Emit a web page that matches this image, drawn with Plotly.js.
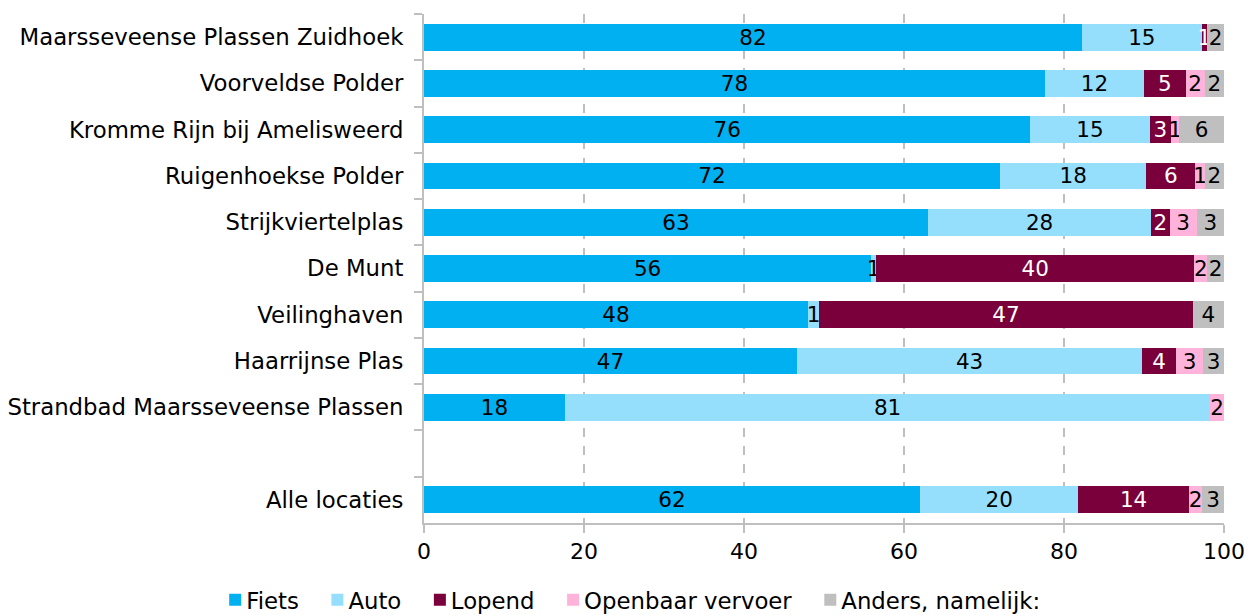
<!DOCTYPE html>
<html>
<head>
<meta charset="utf-8">
<script src="https://cdn.plot.ly/plotly-3.0.1.min.js"></script>
<style>
html,body{margin:0;padding:0;background:#fff;}
#chart{width:1257px;height:615px;}
#chart .legend .legendtext{transform:translateX(-9px);}
</style>
</head>
<body>
<div id="chart"></div>
<script>
const categories = ["Maarsseveense Plassen Zuidhoek","Voorveldse Polder","Kromme Rijn bij Amelisweerd","Ruigenhoekse Polder","Strijkviertelplas","De Munt","Veilinghaven","Haarrijnse Plas","Strandbad Maarsseveense Plassen"," ","Alle locaties"];
const fiets   = [82.25, 77.6, 75.8, 72.0, 63.0, 55.9, 48.0, 46.6, 17.6, null, 62.0];
const auto    = [14.95, 12.4, 14.9, 18.3, 27.9, 0.6, 1.4, 43.2, 80.7, null, 19.8];
const lopend  = [0.7, 5.2, 2.7, 6.1, 2.3, 39.8, 46.7, 4.2, 0, null, 13.8];
const ov      = [0, 2.4, 1.0, 1.2, 3.4, 1.6, 0, 3.4, 1.7, null, 1.7];
const anders  = [2.1, 2.4, 5.6, 2.4, 3.4, 2.1, 3.9, 2.6, 0, null, 2.7];
const seriesNames = ["Fiets","Auto","Lopend","Openbaar vervoer","Anders, namelijk:"];
const seriesData = [fiets, auto, lopend, ov, anders];
const colors = ["#00b0f0","#95dffd","#7a003c","#ffb3db","#bfbfbf"];
const textColors = ["#000","#000","#fff","#000","#000"];

const traces = seriesData.map((vals, i) => ({
  type: "bar",
  orientation: "h",
  name: seriesNames[i] + "\u2009",
  y: categories,
  x: vals,
  marker: {color: colors[i], line: {width: 0}},
  text: vals.map(v => (v && v > 0) ? String(Math.round(v)) : ""),
  textposition: "inside",
  insidetextanchor: "middle",
  textangle: 0,
  constraintext: "none",
  textfont: {family: "DejaVu Sans", size: 21.5, color: textColors[i]},
  hoverinfo: "x+name"
}));

const layout = {
  width: 1257, height: 615,
  margin: {l: 424, r: 33, t: 14, b: 92, autoexpand: false},
  barmode: "stack",
  bargap: 0.42,
  paper_bgcolor: "#fff", plot_bgcolor: "#fff",
  font: {family: "DejaVu Sans", size: 22.8, color: "#000"},
  xaxis: {
    range: [0, 100], tickvals: [0,20,40,60,80,100],
    showgrid: true, gridcolor: "#bfbfbf", griddash: "dash", gridwidth: 1.5,
    showline: true, linecolor: "#bfbfbf", linewidth: 2,
    ticks: "outside", ticklen: 8, tickcolor: "#bfbfbf", tickwidth: 2,
    ticklabelstandoff: 0,
    zeroline: false, tickfont: {size: 22}
  },
  yaxis: {
    type: "category", categoryorder: "array", categoryarray: categories,
    autorange: "reversed",
    tickson: "boundaries",
    showgrid: false,
    showline: true, linecolor: "#bfbfbf", linewidth: 2,
    ticks: "outside", ticklen: 8, tickcolor: "#bfbfbf", tickwidth: 2,
    ticklabelstandoff: 14,
    tickfont: {size: 22.8}
  },
  legend: {
    orientation: "h",
    x: -0.261, xanchor: "left", y: -0.151, yanchor: "middle",
    font: {size: 22.8}, itemwidth: 30, tracegroupgap: 0,
    traceorder: "normal"
  },
  showlegend: true
};

Plotly.newPlot("chart", traces, layout, {displayModeBar: false, staticPlot: true});
</script>
</body>
</html>
